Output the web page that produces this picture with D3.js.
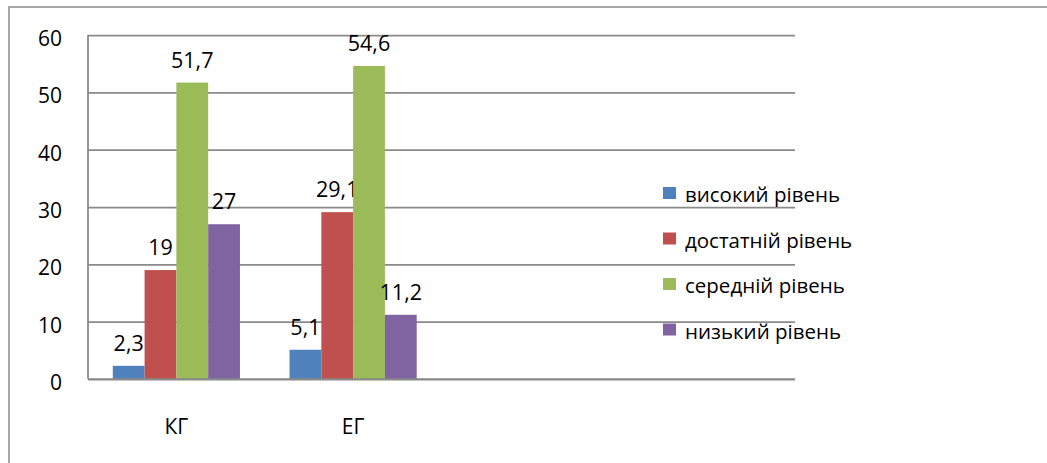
<!DOCTYPE html>
<html>
<head>
<meta charset="utf-8">
<script src="https://cdn.jsdelivr.net/npm/d3@7"></script>
<style>
  html, body { margin: 0; padding: 0; background: #fff; }
  svg { display: block; font-family: "Open Sans", "Noto Sans", sans-serif; }
</style>
</head>
<body>
<svg id="chart" width="1047" height="463"></svg>
<script>
// Groups along the x axis (the last two slots are left empty)
const categories = ["КГ", "ЕГ", "", ""];
// Level names, in legend order
const seriesNames = ["високий рівень", "достатній рівень", "середній рівень", "низький рівень"];
const seriesColors = ["#4F81BD", "#C0504D", "#9BBB59", "#8064A2"];
// Percent values per series, one entry per group
const vysokyi   = [2.3, 5.1];
const dostatnii = [19, 29.1];
const serednii  = [51.7, 54.6];
const nyzkyi    = [27, 11.2];
const yTicks = [0, 10, 20, 30, 40, 50, 60];

const seriesValues = [vysokyi, dostatnii, serednii, nyzkyi];

const svg = d3.select("#chart");
const W = 1047, H = 463;
const plot = { left: 88, right: 795, top: 35, bottom: 379 };

// outer frame of the chart area
svg.append("rect")
  .attr("x", 9).attr("y", 7)
  .attr("width", W + 40).attr("height", H + 40)
  .attr("fill", "none")
  .attr("stroke", "#8c8c8c")
  .attr("stroke-width", 1.5);

const y = d3.scaleLinear().domain([0, 60]).range([plot.bottom, plot.top]);
const x0 = d3.scaleBand().domain(d3.range(categories.length)).range([plot.left, plot.right]);
const x1 = d3.scaleBand().domain(d3.range(seriesNames.length))
  .range([0, x0.bandwidth()]).paddingInner(0).paddingOuter(0.78);

// value axis with horizontal gridlines
const yAxis = svg.append("g")
  .attr("transform", `translate(${plot.left},0)`)
  .call(d3.axisLeft(y).tickValues(yTicks).tickSize(-(plot.right - plot.left)).tickPadding(26));
yAxis.select(".domain").remove();
yAxis.selectAll(".tick line").attr("stroke", "#8a8a8a").attr("stroke-width", 1.75);
yAxis.selectAll(".tick text")
  .attr("font-size", 21).attr("fill", "#000")
  .attr("font-family", "'Open Sans', sans-serif")
  .attr("dy", "0.5em");

// vertical axis line
svg.append("line")
  .attr("x1", plot.left).attr("x2", plot.left)
  .attr("y1", plot.top).attr("y2", plot.bottom)
  .attr("stroke", "#8a8a8a").attr("stroke-width", 1.75);

// category axis
const xAxis = svg.append("g")
  .attr("transform", `translate(0,${plot.bottom})`)
  .call(d3.axisBottom(x0).tickSize(0).tickPadding(40).tickFormat(i => categories[i]));
xAxis.select(".domain").remove();
xAxis.selectAll(".tick text")
  .attr("font-size", 21).attr("fill", "#000")
  .attr("font-family", "'Open Sans', sans-serif");

// bars
const groups = svg.append("g").selectAll("g")
  .data(seriesValues)
  .join("g")
  .attr("fill", (d, s) => seriesColors[s]);

groups.each(function (vals, s) {
  const g = d3.select(this);
  g.selectAll("rect")
    .data(vals)
    .join("rect")
    .attr("x", (v, i) => x0(i) + x1(s))
    .attr("width", x1.bandwidth())
    .attr("y", v => y(v))
    .attr("height", v => y(0) - y(v));
  g.selectAll("text")
    .data(vals)
    .join("text")
    .attr("x", (v, i) => x0(i) + x1(s) + x1.bandwidth() / 2)
    .attr("y", v => y(v) - 15)
    .attr("text-anchor", "middle")
    .attr("font-size", 21.5)
    .attr("fill", "#000")
    .text(v => String(v).replace(".", ","));
});

// horizontal baseline drawn over the bar bottoms
svg.append("line")
  .attr("x1", plot.left).attr("x2", plot.right)
  .attr("y1", plot.bottom).attr("y2", plot.bottom)
  .attr("stroke", "#8a8a8a").attr("stroke-width", 1.75);

// legend
const legend = svg.append("g").attr("transform", "translate(663,187)");
const rows = legend.selectAll("g")
  .data(seriesNames)
  .join("g")
  .attr("transform", (d, i) => `translate(0,${i * 45.5})`);
rows.append("rect")
  .attr("width", 13).attr("height", 12)
  .attr("fill", (d, i) => seriesColors[i]);
rows.append("text")
  .attr("x", 22).attr("y", 15)
  .attr("font-size", 20.5)
  .attr("fill", "#000")
  .text(d => d);
</script>
</body>
</html>
